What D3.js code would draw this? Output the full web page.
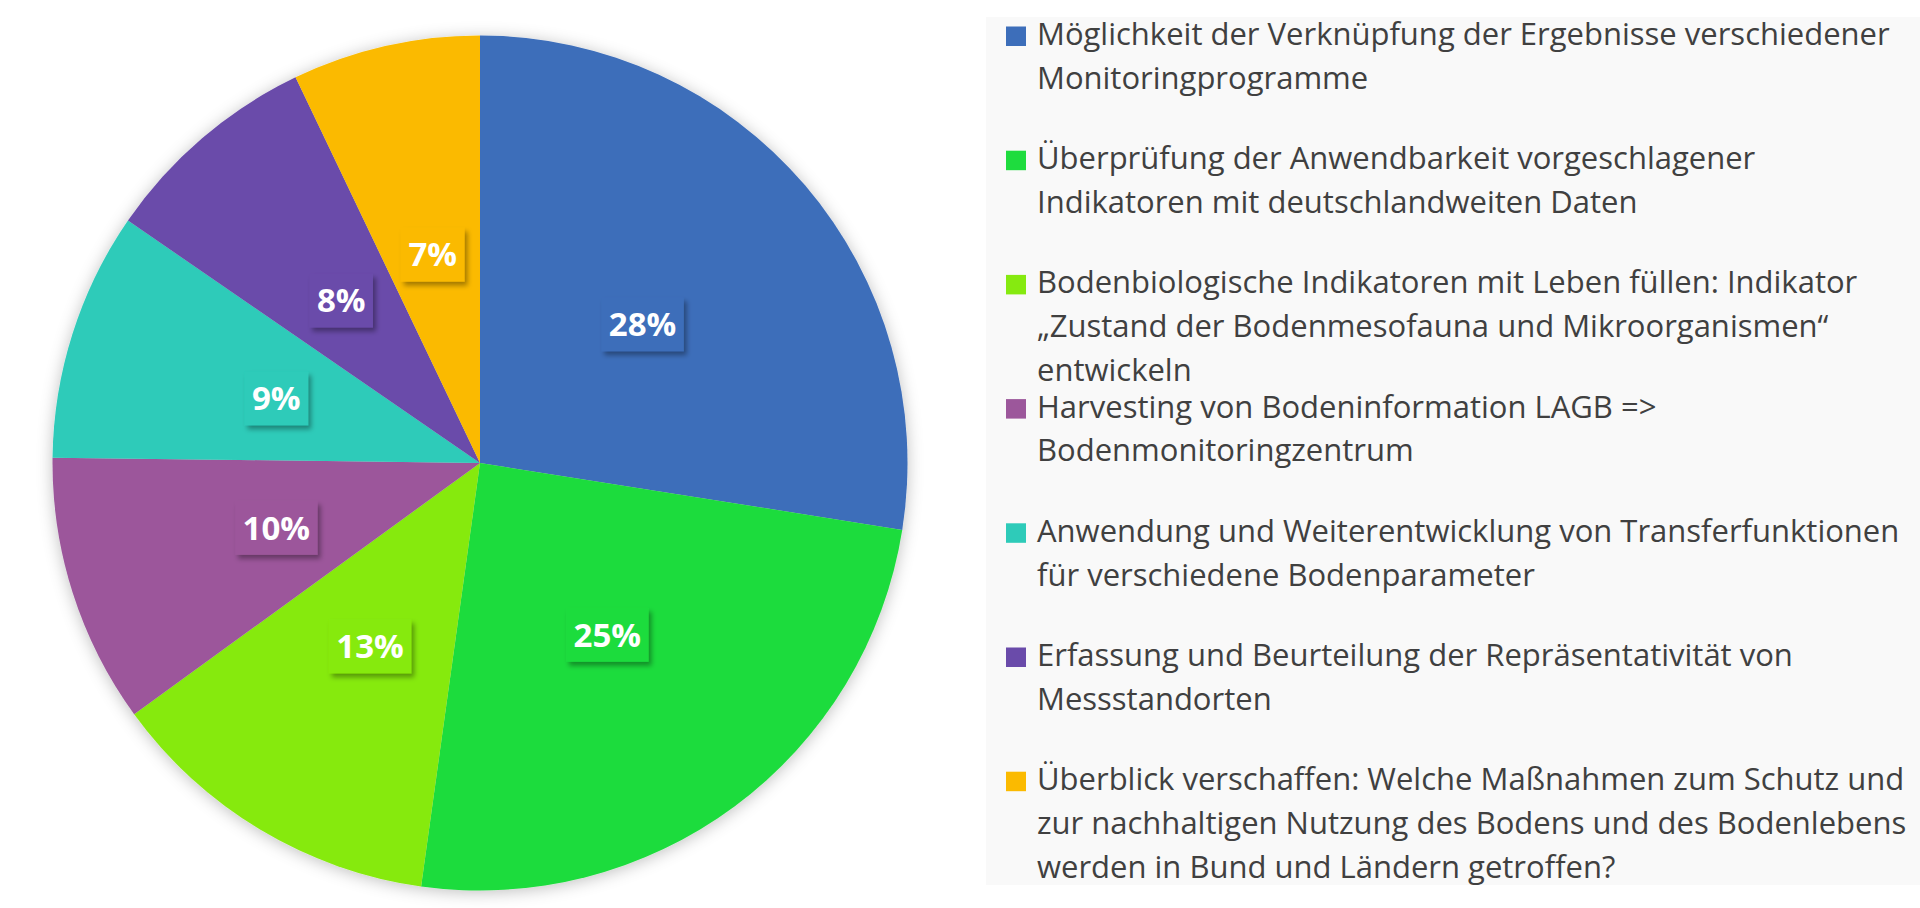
<!DOCTYPE html>
<html lang="de">

<head>
  <meta charset="UTF-8">
  <title>Pie</title>
  <script src="https://d3js.org/d3.v7.min.js"></script>
  <style>
    body {
      margin: 0;
      padding: 0;
      background-color: #ffffff;
      font-family: "Open Sans", sans-serif;
    }

    .legend-text {
      font-size: 31px;
      fill: #404040;
    }

    .pct {
      font-size: 33px;
      font-weight: bold;
      fill: #ffffff;
    }
  </style>
</head>

<body>
  <div id="chart"></div>
  <script>
    // legend texts, one array of lines per category
    const categories = [
      ["Möglichkeit der Verknüpfung der Ergebnisse verschiedener", "Monitoringprogramme"],
      ["Überprüfung der Anwendbarkeit vorgeschlagener", "Indikatoren mit deutschlandweiten Daten"],
      ["Bodenbiologische Indikatoren mit Leben füllen: Indikator", "„Zustand der Bodenmesofauna und Mikroorganismen“", "entwickeln"],
      ["Harvesting von Bodeninformation LAGB =>", "Bodenmonitoringzentrum"],
      ["Anwendung und Weiterentwicklung von Transferfunktionen", "für verschiedene Bodenparameter"],
      ["Erfassung und Beurteilung der Repräsentativität von", "Messstandorten"],
      ["Überblick verschaffen: Welche Maßnahmen zum Schutz und", "zur nachhaltigen Nutzung des Bodens und des Bodenlebens", "werden in Bund und Ländern getroffen?"]
    ];

    // shares in percent
    const shares = [27.5, 24.7, 12.8, 10.2, 9.4, 8.3, 7.1];

    const colors = ["#3d6eba", "#1edc3e", "#86ea10", "#9c579b", "#2ecbb9", "#6a4baa", "#fbba00"];

    const width = 1920, height = 908;
    const cx = 480, cy = 463, radius = 427.5;

    const data = categories.map((c, i) => ({ lines: c, value: shares[i], color: colors[i] }));

    const svg = d3.select("#chart")
      .append("svg")
      .attr("width", width)
      .attr("height", height);

    const defs = svg.append("defs");

    // soft glow around the pie
    const glow = defs.append("filter")
      .attr("id", "pieShadow")
      .attr("x", "-10%").attr("y", "-10%")
      .attr("width", "120%").attr("height", "120%");
    glow.append("feGaussianBlur").attr("in", "SourceAlpha").attr("stdDeviation", 8).attr("result", "blur");
    glow.append("feOffset").attr("in", "blur").attr("dy", 2).attr("result", "off");
    glow.append("feFlood").attr("flood-color", "#000").attr("flood-opacity", 0.25);
    glow.append("feComposite").attr("in2", "off").attr("operator", "in").attr("result", "shadow");
    const m1 = glow.append("feMerge");
    m1.append("feMergeNode").attr("in", "shadow");
    m1.append("feMergeNode").attr("in", "SourceGraphic");

    // shadow under the percent boxes
    const boxShadow = defs.append("filter")
      .attr("id", "boxShadow")
      .attr("x", "-20%").attr("y", "-20%")
      .attr("width", "150%").attr("height", "150%");
    boxShadow.append("feDropShadow")
      .attr("dx", 3).attr("dy", 4)
      .attr("stdDeviation", 2.5)
      .attr("flood-color", "#000")
      .attr("flood-opacity", 0.35);

    const pie = d3.pie()
      .sort(null)
      .value(d => d.value);

    const arc = d3.arc()
      .innerRadius(0)
      .outerRadius(radius);

    const arcs = pie(data);

    const g = svg.append("g")
      .attr("transform", `translate(${cx}, ${cy})`);

    g.append("g")
      .attr("filter", "url(#pieShadow)")
      .selectAll("path")
      .data(arcs)
      .enter()
      .append("path")
      .attr("d", arc)
      .attr("fill", d => d.data.color);

    // percent labels with coloured boxes
    const labels = g.selectAll("g.lbl")
      .data(arcs)
      .enter()
      .append("g")
      .attr("class", "lbl")
      .attr("transform", d => {
        const [x, y] = arc.centroid(d);
        return `translate(${x}, ${y})`;
      });

    labels.append("rect")
      .attr("fill", d => d.data.color)
      .attr("filter", "url(#boxShadow)");

    labels.append("text")
      .attr("class", "pct")
      .attr("text-anchor", "middle")
      .attr("dy", "0.36em")
      .text(d => Math.round(d.data.value) + "%");

    labels.each(function () {
      const t = d3.select(this).select("text").node().getBBox();
      d3.select(this).select("rect")
        .attr("x", -t.width / 2 - 7.5)
        .attr("y", -27)
        .attr("width", t.width + 15)
        .attr("height", 54);
    });

    // legend
    const legend = svg.append("g");

    legend.append("rect")
      .attr("x", 986)
      .attr("y", 17)
      .attr("width", width - 986)
      .attr("height", 868)
      .attr("fill", "#f9f9f9");

    const slot = 124.2, firstBase = 45, lineH = 43.8;

    const items = legend.selectAll("g.item")
      .data(data)
      .enter()
      .append("g")
      .attr("class", "item")
      .attr("transform", (d, i) => `translate(1006, ${firstBase + i * slot})`);

    items.append("rect")
      .attr("x", 0)
      .attr("y", -18.5)
      .attr("width", 20)
      .attr("height", 19.5)
      .attr("fill", d => d.color);

    items.append("text")
      .attr("class", "legend-text")
      .selectAll("tspan")
      .data(d => d.lines)
      .enter()
      .append("tspan")
      .attr("x", 31)
      .attr("y", (d, i) => i * lineH)
      .text(d => d);
  </script>
</body>

</html>
